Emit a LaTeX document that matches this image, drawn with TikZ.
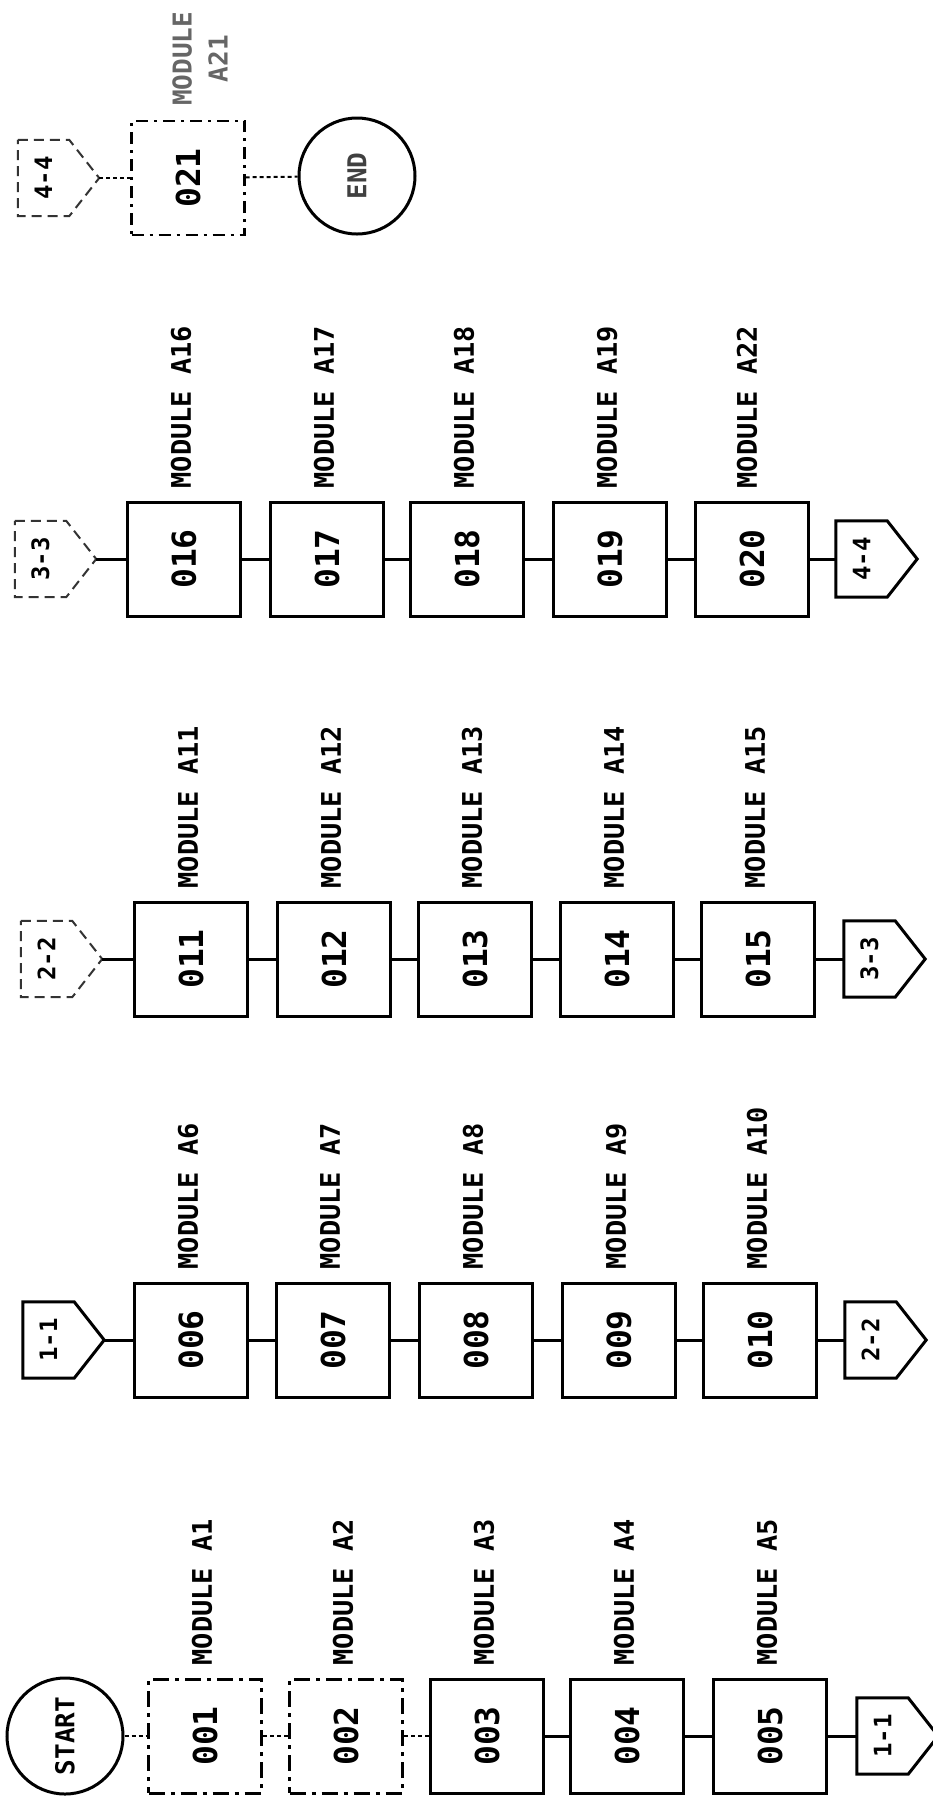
\documentclass[tikz,border=0pt]{standalone}
\usepackage{fontspec}
\setmonofont{DejaVu Sans Mono}
\newcommand\fnum{\ttfamily\bfseries\fontsize{33}{35}\selectfont}
\newcommand\flab{\ttfamily\bfseries\fontsize{27}{30}\selectfont}
\newcommand\fcon{\ttfamily\bfseries\fontsize{24}{26}\selectfont}
\newcommand\fterm{\ttfamily\bfseries\fontsize{26}{28}\selectfont}
\newcommand\fsmall{\ttfamily\bfseries\fontsize{26}{36}\selectfont}
\newcommand\offpage[5][]{%
  \node[ctext, minimum width=51pt, minimum height=76pt] (#2) at (#3+25.5,#4) {\rotatebox{90}{#5}};
  \draw[offshape,#1] (#2.north west) -- (#2.north east) -- ([xshift=30pt]#2.east) coordinate (#2tip) -- (#2.south east) -- (#2.south west) -- cycle;
}
\begin{document}
\begin{tikzpicture}[x=1pt,y=-1pt,
  modbox/.style={draw, line width=3pt, minimum width=113pt, minimum height=114pt, inner sep=0pt, font=\fnum},
  brokenbox/.style={modbox, dash pattern=on 16pt off 6pt on 4pt off 6pt},
  modlab/.style={rotate=90, anchor=west, font=\flab, inner sep=0pt},
  ctext/.style={font=\fcon, inner sep=0pt},
  offshape/.style={line width=3pt, line join=miter},
  faint/.style={line width=2pt, dash pattern=on 10pt off 6pt, draw=black!80},
  link/.style={line width=3pt},
  dotlink/.style={line width=2pt, dash pattern=on 4pt off 3pt},
  term/.style={draw, circle, line width=3pt, minimum size=116pt, inner sep=0pt}]
\fill[white] (0,0) rectangle (933,1808);
\useasboundingbox (0,0) rectangle (933,1808);

% ---------- Row 1 ----------
\node[term] (start) at (65,1736) {\rotatebox{90}{\fterm START}};
\node[brokenbox] (b1) at (205,1736) {\rotatebox{90}{001}};
\node[brokenbox] (b2) at (346,1736) {\rotatebox{90}{002}};
\node[modbox] (b3) at (487,1736) {\rotatebox{90}{003}};
\node[modbox] (b4) at (627,1736) {\rotatebox{90}{004}};
\node[modbox] (b5) at (770,1736) {\rotatebox{90}{005}};
\offpage{o11}{857}{1736}{1-1}
\node[modlab] (l1) at ([yshift=12pt,xshift=-3pt]b1.north) {MODULE A1};
\node[modlab] (l2) at ([yshift=12pt,xshift=-3pt]b2.north) {MODULE A2};
\node[modlab] (l3) at ([yshift=12pt,xshift=-3pt]b3.north) {MODULE A3};
\node[modlab] (l4) at ([yshift=12pt,xshift=-3pt]b4.north) {MODULE A4};
\node[modlab] (l5) at ([yshift=12pt,xshift=-3pt]b5.north) {MODULE A5};
\draw[dotlink] (start) -- (b1);
\draw[dotlink] (b1) -- (b2);
\draw[dotlink] (b2) -- (b3);
\draw[link] (b3) -- (b4);
\draw[link] (b4) -- (b5);
\draw[link] (b5) -- (o11.west);

% ---------- Row 2 ----------
\offpage{i11}{23}{1340}{1-1}
\node[modbox] (b6) at (191,1340) {\rotatebox{90}{006}};
\node[modbox] (b7) at (333,1340) {\rotatebox{90}{007}};
\node[modbox] (b8) at (476,1340) {\rotatebox{90}{008}};
\node[modbox] (b9) at (619,1340) {\rotatebox{90}{009}};
\node[modbox] (b10) at (760,1340) {\rotatebox{90}{010}};
\offpage{o22}{845}{1340}{2-2}
\node[modlab] (l6) at ([yshift=12pt,xshift=-3pt]b6.north) {MODULE A6};
\node[modlab] (l7) at ([yshift=12pt,xshift=-3pt]b7.north) {MODULE A7};
\node[modlab] (l8) at ([yshift=12pt,xshift=-3pt]b8.north) {MODULE A8};
\node[modlab] (l9) at ([yshift=12pt,xshift=-3pt]b9.north) {MODULE A9};
\node[modlab] (l10) at ([yshift=12pt,xshift=-3pt]b10.north) {MODULE A10};
\draw[link] (i11tip) -- (b6);
\draw[link] (b6) -- (b7);
\draw[link] (b7) -- (b8);
\draw[link] (b8) -- (b9);
\draw[link] (b9) -- (b10);
\draw[link] (b10) -- (o22.west);

% ---------- Row 3 ----------
\offpage[faint]{i22}{21}{959}{2-2}
\node[modbox] (b11) at (191,959) {\rotatebox{90}{011}};
\node[modbox] (b12) at (334,959) {\rotatebox{90}{012}};
\node[modbox] (b13) at (475,959) {\rotatebox{90}{013}};
\node[modbox] (b14) at (617,959) {\rotatebox{90}{014}};
\node[modbox] (b15) at (758,959) {\rotatebox{90}{015}};
\offpage{o33}{844}{959}{3-3}
\node[modlab] (l11) at ([yshift=12pt,xshift=-3pt]b11.north) {MODULE A11};
\node[modlab] (l12) at ([yshift=12pt,xshift=-3pt]b12.north) {MODULE A12};
\node[modlab] (l13) at ([yshift=12pt,xshift=-3pt]b13.north) {MODULE A13};
\node[modlab] (l14) at ([yshift=12pt,xshift=-3pt]b14.north) {MODULE A14};
\node[modlab] (l15) at ([yshift=12pt,xshift=-3pt]b15.north) {MODULE A15};
\draw[link] (i22tip) -- (b11);
\draw[link] (b11) -- (b12);
\draw[link] (b12) -- (b13);
\draw[link] (b13) -- (b14);
\draw[link] (b14) -- (b15);
\draw[link] (b15) -- (o33.west);

% ---------- Row 4 ----------
\offpage[faint]{i33}{15}{559}{3-3}
\node[modbox] (b16) at (184,559) {\rotatebox{90}{016}};
\node[modbox] (b17) at (327,559) {\rotatebox{90}{017}};
\node[modbox] (b18) at (467,559) {\rotatebox{90}{018}};
\node[modbox] (b19) at (610,559) {\rotatebox{90}{019}};
\node[modbox] (b20) at (752,559) {\rotatebox{90}{020}};
\offpage{o44}{836}{559}{4-4}
\node[modlab] (l16) at ([yshift=12pt,xshift=-3pt]b16.north) {MODULE A16};
\node[modlab] (l17) at ([yshift=12pt,xshift=-3pt]b17.north) {MODULE A17};
\node[modlab] (l18) at ([yshift=12pt,xshift=-3pt]b18.north) {MODULE A18};
\node[modlab] (l19) at ([yshift=12pt,xshift=-3pt]b19.north) {MODULE A19};
\node[modlab] (l20) at ([yshift=12pt,xshift=-5pt]b20.north) {MODULE A22};
\draw[link] (i33tip) -- (b16);
\draw[link] (b16) -- (b17);
\draw[link] (b17) -- (b18);
\draw[link] (b18) -- (b19);
\draw[link] (b19) -- (b20);
\draw[link] (b20) -- (o44.west);

% ---------- Row 5 ----------
\offpage[faint]{i44}{18}{178}{4-4}
\node[modbox, dash pattern=on 12pt off 6pt on 3pt off 6pt, line width=2.2pt] (b21) at (188,178) {\rotatebox{90}{021}};
\node[term] (end) at (357,176) {\rotatebox{90}{\fterm\color{black!75}END}};
\node[modlab, font=\fsmall, align=center, text=black!60] (l21) at ([yshift=14pt,xshift=12pt]b21.north) {MODULE\\A21};
\draw[dotlink] (i44tip) -- (b21);
\draw[dotlink] (b21) -- (end);
\end{tikzpicture}
\end{document}
